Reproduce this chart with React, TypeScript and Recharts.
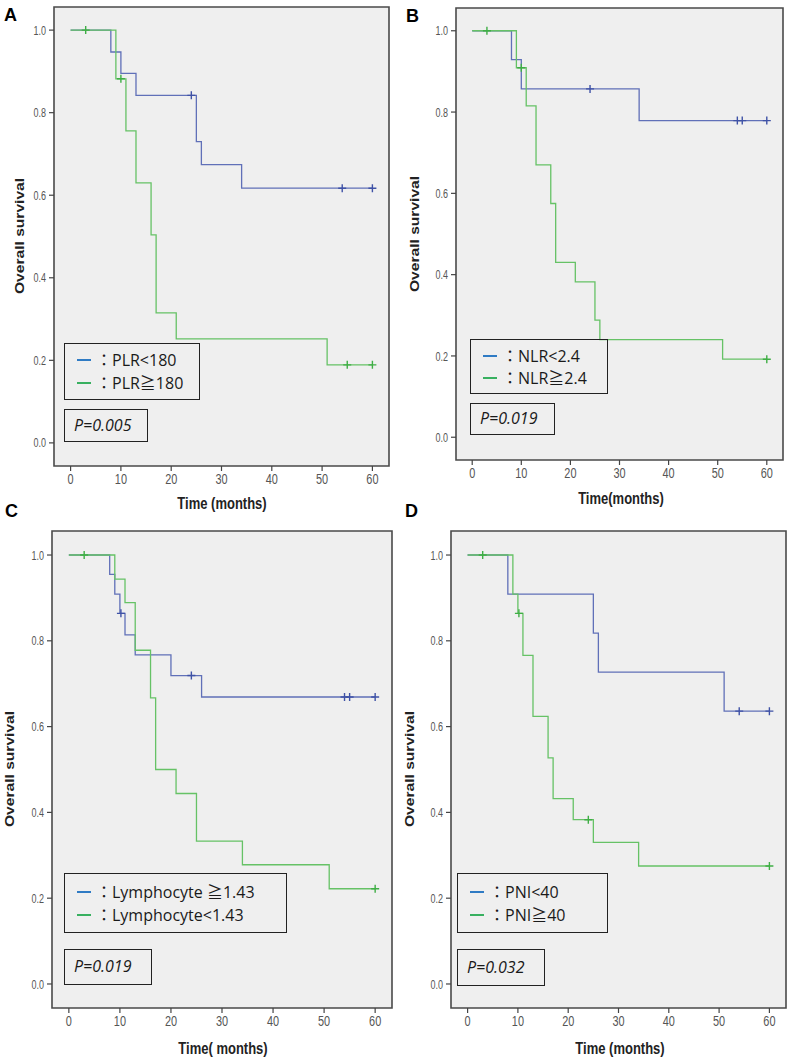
import React from 'react';
import { ComposedChart, Line, XAxis, YAxis, ReferenceArea } from 'recharts';

// ---------- Panel A : PLR ----------
const aBlueTime = [0, 8, 10, 13, 25, 26, 34, 60];
const aBlueSurv = [1, 0.947, 0.895, 0.842, 0.73, 0.674, 0.617, 0.617];
const aBlueCensor = [24, 54, 60];
const aGreenTime = [0, 9, 11, 13, 16, 17, 21, 51, 60];
const aGreenSurv = [1, 0.882, 0.756, 0.63, 0.504, 0.315, 0.252, 0.189, 0.189];
const aGreenCensor = [3, 10, 55, 60];

// ---------- Panel B : NLR ----------
const bBlueTime = [0, 8, 10, 34, 60];
const bBlueSurv = [1, 0.929, 0.857, 0.779, 0.779];
const bBlueCensor = [24, 54, 55, 60];
const bGreenTime = [0, 9, 11, 13, 16, 17, 21, 25, 26, 51, 60];
const bGreenSurv = [1, 0.909, 0.815, 0.67, 0.575, 0.43, 0.382, 0.288, 0.24, 0.192, 0.192];
const bGreenCensor = [3, 10, 60];

// ---------- Panel C : Lymphocyte ----------
const cBlueTime = [0, 8, 9, 10, 11, 13, 20, 26, 60];
const cBlueSurv = [1, 0.955, 0.909, 0.864, 0.814, 0.767, 0.719, 0.669, 0.669];
const cBlueCensor = [10.2, 24, 54, 55, 60];
const cGreenTime = [0, 9, 11, 13, 16, 17, 21, 25, 34, 51, 60];
const cGreenSurv = [1, 0.944, 0.889, 0.778, 0.667, 0.5, 0.444, 0.333, 0.278, 0.222, 0.222];
const cGreenCensor = [3, 60];

// ---------- Panel D : PNI ----------
const dBlueTime = [0, 8, 25, 26, 51, 60];
const dBlueSurv = [1, 0.909, 0.818, 0.727, 0.636, 0.636];
const dBlueCensor = [54, 60];
const dGreenTime = [0, 9, 10, 11, 13, 16, 17, 21, 25, 34, 60];
const dGreenSurv = [1, 0.909, 0.864, 0.766, 0.624, 0.527, 0.432, 0.383, 0.33, 0.275, 0.275];
const dGreenCensor = [3, 10.2, 24, 60];

// ---------- Labels ----------
const panelLetters = ['A', 'B', 'C', 'D'];
const xTitles = ['Time (months)', 'Time(months)', 'Time( months)', 'Time (months)'];
const yTitle = 'Overall survival';
const legendBlue = ['：PLR<180', '：NLR<2.4', '：Lymphocyte ≧1.43', '：PNI<40'];
const legendGreen = ['：PLR≧180', '：NLR≧2.4', '：Lymphocyte<1.43', '：PNI≧40'];
const pValues = ['P=0.005', 'P=0.019', 'P=0.019', 'P=0.032'];

const xTicks = [0, 10, 20, 30, 40, 50, 60];
const yTicks = [0, 0.2, 0.4, 0.6, 0.8, 1.0];
const X_DOMAIN: [number, number] = [-3.3, 63.3];
const Y_DOMAIN: [number, number] = [-0.056, 1.056];

const BLUE = '#6070b8';
const BLUE_MARK = '#3f52a6';
const GREEN = '#66c266';
const GREEN_MARK = '#3fae45';
const LEG_BLUE = '#2f7bc4';
const LEG_GREEN = '#38b060';

const ARIAL = '"Liberation Sans", Arial, sans-serif';
const LEG_FONT = '"Open Sans", "Noto Sans CJK JP", sans-serif';

function stepData(t: number[], s: number[]) {
  return t.map((v, i) => ({ t: v, s: s[i] }));
}
function censorData(c: number[], t: number[], s: number[]) {
  return c.map((ct) => {
    let v = s[0];
    for (let i = 0; i < t.length; i++) if (t[i] <= ct) v = s[i];
    return { t: ct, s: v };
  });
}

const XTick = (props: any) => {
  const { x, y, payload } = props;
  return (
    <g transform={`translate(${x},${y})`}>
      <text textAnchor="middle" dy={8.5} fontSize={11.5} fill="#555" fontFamily={ARIAL} transform="scale(0.95,1.25)">
        {payload.value}
      </text>
    </g>
  );
};
const YTick = (props: any) => {
  const { x, y, payload } = props;
  return (
    <g transform={`translate(${x},${y})`}>
      <text textAnchor="end" dy={3.5} fontSize={10} fill="#555" fontFamily={ARIAL} transform="scale(0.9,1.3)">
        {Number(payload.value).toFixed(1)}
      </text>
    </g>
  );
};

const makePlus = (color: string) => (p: any) => {
  const { cx, cy, index } = p;
  if (cx == null || cy == null) return <g key={`n${index}`} />;
  return (
    <path
      key={`c${index}`}
      d={`M${cx - 4},${cy}H${cx + 4}M${cx},${cy - 4}V${cy + 4}`}
      stroke={color}
      strokeWidth={1.4}
      fill="none"
    />
  );
};

type Series = { t: number[]; s: number[]; c: number[] };

function KMPlot(props: { left: number; top: number; w: number; h: number; blue: Series; green: Series }) {
  const { left, top, w, h, blue, green } = props;
  return (
    <div style={{ position: 'absolute', left: left - 40, top: top - 10 }}>
      <ComposedChart width={w + 50} height={h + 40} margin={{ top: 10, right: 10, left: 0, bottom: 0 }}>
        <XAxis
          dataKey="t"
          type="number"
          domain={X_DOMAIN}
          ticks={xTicks}
          allowDataOverflow
          interval={0}
          axisLine={false}
          tickLine={{ stroke: '#444', strokeWidth: 1.2 }}
          tickSize={5}
          tickMargin={2}
          tick={<XTick />}
          height={30}
        />
        <YAxis
          type="number"
          domain={Y_DOMAIN}
          ticks={yTicks}
          allowDataOverflow
          interval={0}
          axisLine={false}
          tickLine={{ stroke: '#444', strokeWidth: 1.2 }}
          tickSize={5}
          tickMargin={3}
          tick={<YTick />}
          width={40}
        />
        <ReferenceArea
          x1={X_DOMAIN[0]}
          x2={X_DOMAIN[1]}
          y1={Y_DOMAIN[0]}
          y2={Y_DOMAIN[1]}
          fill="#efefef"
          fillOpacity={1}
          stroke="#4a4a4a"
          strokeWidth={1.6}
          ifOverflow="visible"
        />
        <Line data={stepData(blue.t, blue.s)} dataKey="s" type="stepAfter" stroke={BLUE} strokeWidth={1.3} dot={false} isAnimationActive={false} />
        <Line data={censorData(blue.c, blue.t, blue.s)} dataKey="s" stroke="none" dot={makePlus(BLUE_MARK)} isAnimationActive={false} />
        <Line data={stepData(green.t, green.s)} dataKey="s" type="stepAfter" stroke={GREEN} strokeWidth={1.3} dot={false} isAnimationActive={false} />
        <Line data={censorData(green.c, green.t, green.s)} dataKey="s" stroke="none" dot={makePlus(GREEN_MARK)} isAnimationActive={false} />
      </ComposedChart>
    </div>
  );
}

function LegendBox(props: { x: number; y: number; w: number; h: number; r1: number; r2: number; blueText: string; greenText: string }) {
  const { x, y, w, h, r1, r2, blueText, greenText } = props;
  const row = (cy: number, color: string, text: string) => (
    <>
      <div style={{ position: 'absolute', left: 12, top: cy - 1, width: 14, height: 2.2, background: color }} />
      <div style={{ position: 'absolute', left: 31, top: cy - 11, height: 22, lineHeight: '22px', fontFamily: LEG_FONT, fontSize: 16, color: '#1a1a1a', whiteSpace: 'nowrap' }}>
        {text}
      </div>
    </>
  );
  return (
    <div style={{ position: 'absolute', left: x, top: y, width: w, height: h, border: '1.5px solid #222', boxSizing: 'border-box' }}>
      {row(r1 - 1.5, LEG_BLUE, blueText)}
      {row(r2 - 1.5, LEG_GREEN, greenText)}
    </div>
  );
}

function PBox(props: { x: number; y: number; w: number; h: number; text: string }) {
  const { x, y, w, h, text } = props;
  return (
    <div
      style={{
        position: 'absolute', left: x, top: y, width: w, height: h,
        border: '1.5px solid #222', boxSizing: 'border-box',
        fontFamily: LEG_FONT, fontStyle: 'italic', fontSize: 16, color: '#1a1a1a',
        lineHeight: `${h - 3}px`, paddingLeft: 9, whiteSpace: 'nowrap',
      }}
    >
      {text}
    </div>
  );
}

function Letter(props: { x: number; y: number; text: string }) {
  return (
    <div style={{ position: 'absolute', left: props.x, top: props.y, fontFamily: ARIAL, fontWeight: 'bold', fontSize: 18, lineHeight: 1, color: '#000' }}>
      {props.text}
    </div>
  );
}

function XTitle(props: { cx: number; y: number; text: string }) {
  return (
    <div style={{ position: 'absolute', left: props.cx, top: props.y, transform: 'translateX(-50%) scaleY(1.2)', transformOrigin: 'top', fontFamily: ARIAL, fontWeight: 'bold', fontSize: 13, lineHeight: 1, color: '#222', whiteSpace: 'nowrap' }}>
      {props.text}
    </div>
  );
}

function YTitle(props: { cx: number; cy: number; text: string }) {
  return (
    <div style={{ position: 'absolute', left: props.cx, top: props.cy, transform: 'translate(-50%,-50%) rotate(-90deg) scaleX(1.2)', fontFamily: ARIAL, fontWeight: 'bold', fontSize: 13, lineHeight: 1, color: '#222', whiteSpace: 'nowrap' }}>
      {props.text}
    </div>
  );
}

export default function App() {
  return (
    <div style={{ position: 'absolute', left: 0, top: 0, width: 791, height: 1062, background: '#fff', overflow: 'hidden' }}>
      {/* Panel A */}
      <KMPlot left={54} top={7} w={335} h={459} blue={{ t: aBlueTime, s: aBlueSurv, c: aBlueCensor }} green={{ t: aGreenTime, s: aGreenSurv, c: aGreenCensor }} />
      <Letter x={4} y={6} text={panelLetters[0]} />
      <YTitle cx={19} cy={236} text={yTitle} />
      <XTitle cx={222} y={496} text={xTitles[0]} />
      <LegendBox x={64} y={343} w={136} h={57} r1={17} r2={40} blueText={legendBlue[0]} greenText={legendGreen[0]} />
      <PBox x={64} y={409} w={84} h={33} text={pValues[0]} />

      {/* Panel B */}
      <KMPlot left={456} top={8} w={327} h={452} blue={{ t: bBlueTime, s: bBlueSurv, c: bBlueCensor }} green={{ t: bGreenTime, s: bGreenSurv, c: bGreenCensor }} />
      <Letter x={406} y={7} text={panelLetters[1]} />
      <YTitle cx={414} cy={234} text={yTitle} />
      <XTitle cx={621} y={491} text={xTitles[1]} />
      <LegendBox x={470} y={339} w={138} h={55} r1={17} r2={39} blueText={legendBlue[1]} greenText={legendGreen[1]} />
      <PBox x={470} y={403} w={85} h={32} text={pValues[1]} />

      {/* Panel C */}
      <KMPlot left={52} top={531} w={340} h={477} blue={{ t: cBlueTime, s: cBlueSurv, c: cBlueCensor }} green={{ t: cGreenTime, s: cGreenSurv, c: cGreenCensor }} />
      <Letter x={5} y={502} text={panelLetters[2]} />
      <YTitle cx={9} cy={769} text={yTitle} />
      <XTitle cx={223} y={1041} text={xTitles[2]} />
      <LegendBox x={64} y={873} w={223} h={60} r1={19} r2={42} blueText={legendBlue[2]} greenText={legendGreen[2]} />
      <PBox x={64} y={949} w={88} h={36} text={pValues[2]} />

      {/* Panel D */}
      <KMPlot left={451} top={531} w={335} h={477} blue={{ t: dBlueTime, s: dBlueSurv, c: dBlueCensor }} green={{ t: dGreenTime, s: dGreenSurv, c: dGreenCensor }} />
      <Letter x={405} y={502} text={panelLetters[3]} />
      <YTitle cx={409} cy={769} text={yTitle} />
      <XTitle cx={620} y={1041} text={xTitles[3]} />
      <LegendBox x={457} y={873} w={151} h={60} r1={19} r2={42} blueText={legendBlue[3]} greenText={legendGreen[3]} />
      <PBox x={457} y={949} w={88} h={37} text={pValues[3]} />
    </div>
  );
}
